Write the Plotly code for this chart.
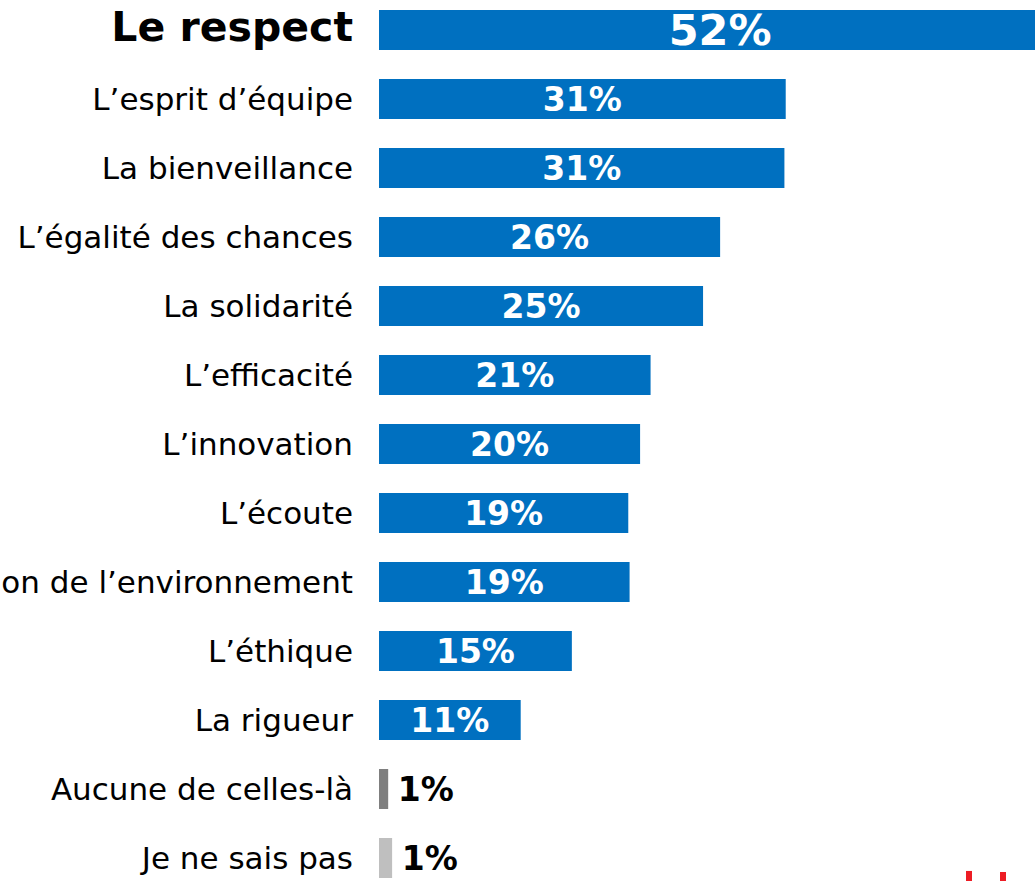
import plotly.graph_objects as go

categories = [
    "Le respect",
    "L’esprit d’équipe",
    "La bienveillance",
    "L’égalité des chances",
    "La solidarité",
    "L’efficacité",
    "L’innovation",
    "L’écoute",
    "La protection de l’environnement",
    "L’éthique",
    "La rigueur",
    "Aucune de celles-là",
    "Je ne sais pas",
]
values = [52, 31.0, 30.9, 26.0, 24.7, 20.7, 19.9, 19.0, 19.1, 14.7, 10.8, 0.7, 1.0]
value_labels = ["52%", "31%", "31%", "26%", "25%", "21%", "20%", "19%", "19%",
                "15%", "11%", "1%", "1%"]

BLUE = "#0070C0"
colors = [BLUE] * 11 + ["#7F7F7F", "#BFBFBF"]
text_pos = ["inside"] * 11 + ["outside"] * 2
text_colors = ["white"] * 11 + ["black"] * 2
text_sizes = [43] + [33] * 12
texts = [("\u2009" + t) if p == "outside" else t for t, p in zip(value_labels, text_pos)]

tick_text = ["<b><span style='font-size:41px'>" + categories[0] + "</span></b>"] + categories[1:]

fig = go.Figure(go.Bar(
    y=categories,
    x=values,
    orientation="h",
    marker=dict(color=colors, line=dict(width=0)),
    text=[f"<b>{t}</b>" for t in texts],
    textposition=text_pos,
    insidetextanchor="middle",
    textangle=0,
    constraintext="none",
    textfont=dict(color=text_colors, size=text_sizes, family="DejaVu Sans"),
    hoverinfo="skip",
))

fig.update_layout(
    width=1035,
    height=881,
    margin=dict(l=379, r=0, t=0, b=0, pad=0, autoexpand=False),
    paper_bgcolor="white",
    plot_bgcolor="white",
    showlegend=False,
    bargap=0.42,
    hovermode=False,
    font=dict(family="DejaVu Sans", color="black", size=31),
    xaxis=dict(range=[0, 50], visible=False, fixedrange=True, automargin=False),
    yaxis=dict(
        type="category",
        categoryorder="array",
        categoryarray=categories,
        tickmode="array",
        tickvals=categories,
        ticktext=tick_text,
        range=[12.3333, -0.4348],
        automargin=False,
        fixedrange=True,
        showgrid=False,
        zeroline=False,
        showline=False,
        ticks="",
        ticklabelstandoff=25,
        tickfont=dict(size=31, color="black", family="DejaVu Sans"),
    ),
    shapes=[
        dict(type="rect", xref="paper", yref="paper", x0=0.8948, x1=0.9040,
             y0=0, y1=0.0114, fillcolor="#ED1C24", line=dict(width=0)),
        dict(type="rect", xref="paper", yref="paper", x0=0.9466, x1=0.9558,
             y0=0, y1=0.0102, fillcolor="#ED1C24", line=dict(width=0)),
    ],
)

fig.write_html(
    "out.html",
    config={"displayModeBar": False},
    post_script="document.body.style.margin='0';document.body.style.overflow='hidden';",
)
